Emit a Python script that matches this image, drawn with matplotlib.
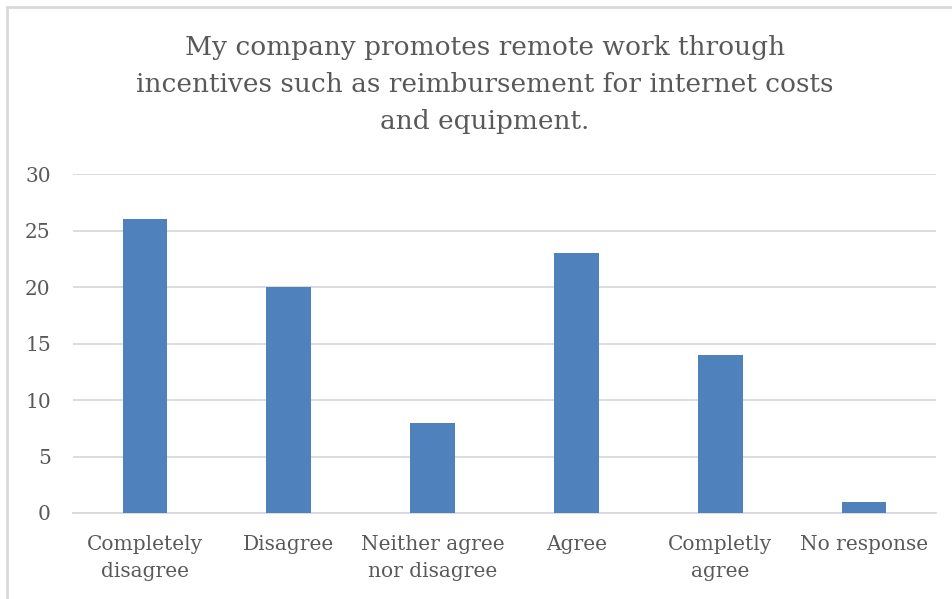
import matplotlib.pyplot as plt
from matplotlib.patches import Rectangle

categories = ["Completely\ndisagree", "Disagree", "Neither agree\nnor disagree",
              "Agree", "Completly\nagree", "No response"]
counts = [26, 20, 8, 23, 14, 1]
title = ("My company promotes remote work through\n"
         "incentives such as reimbursement for internet costs\n"
         "and equipment.")

W, H = 952, 599
fig = plt.figure(figsize=(W / 100, H / 100), dpi=100)
plt.rcParams['font.family'] = ['DejaVu Serif']
text_color = '#595959'

# outer chart frame (runs off the right and bottom edges)
fig.patches.append(Rectangle((7 / W, -0.1), 1.1, 1 - 7 / H + 0.1, transform=fig.transFigure,
                             fill=False, edgecolor='#d9d9d9', linewidth=2))

ax = fig.add_axes([73 / W, 1 - 513 / H, (936 - 73) / W, (513 - 174) / H])
x = range(len(categories))
ax.bar(x, counts, width=0.31, color='#4F81BD', zorder=3)
ax.set_xlim(-0.5, len(categories) - 0.5)
ax.set_ylim(0, 30)
ax.set_yticks(range(0, 31, 5))
ax.yaxis.grid(True, color='#d9d9d9', linewidth=1.3, zorder=0)
for s in ['top', 'right', 'left']:
    ax.spines[s].set_visible(False)
ax.spines['bottom'].set_color('#d9d9d9')
ax.spines['bottom'].set_linewidth(1.3)
ax.tick_params(length=0, colors=text_color, labelsize=14.5)
ax.tick_params(axis='y', pad=16)
ax.tick_params(axis='x', pad=16)
ax.set_xticks(list(x))
ax.set_xticklabels(categories, linespacing=1.55)

fig.text(485 / W, 1 - 84 / H, title, ha='center', va='center', fontsize=19,
         color=text_color, linespacing=1.6)

fig.savefig('out.png', dpi=100)
